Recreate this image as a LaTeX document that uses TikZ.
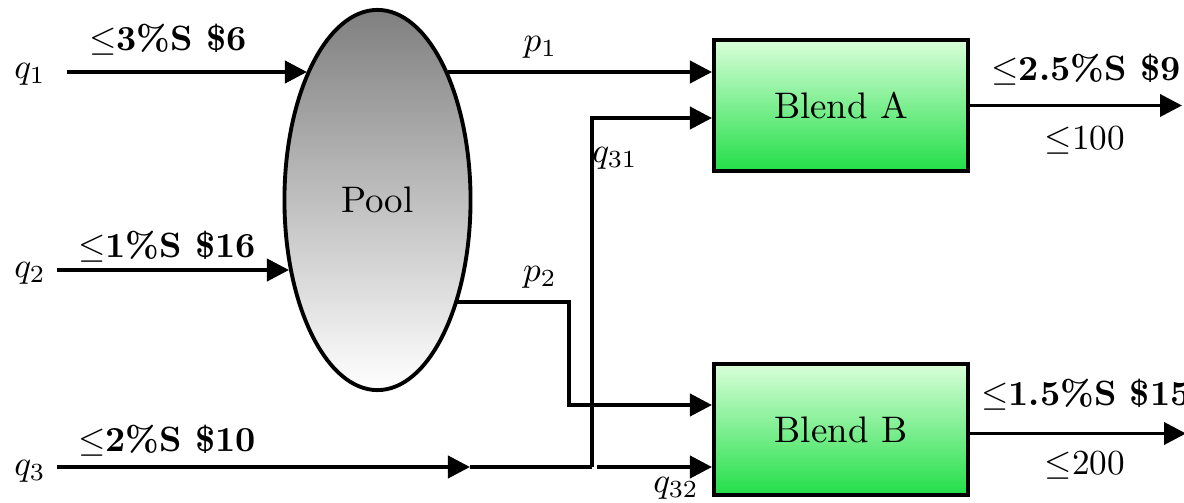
\documentclass[tikz,border=0pt]{standalone}
\usepackage{amsmath,amssymb}
\usepackage{tikz}
\usetikzlibrary{calc,positioning,arrows.meta,shapes.geometric}
\definecolor{blendgreen}{RGB}{34,222,72}

\begin{document}
\begin{tikzpicture}[
    x=0.01cm, y=-0.01cm,
    font=\normalsize,
    pool/.style={ellipse, draw=black, line width=1.1pt, top color=gray, bottom color=white, minimum width=1.86cm, minimum height=3.8cm, inner sep=0pt},
    blend/.style={rectangle, draw=black, line width=1.1pt, top color=green!15, bottom color=blendgreen, minimum width=2.54cm, minimum height=1.31cm},
    spec/.style={font=\bfseries},
    pipe/.style={line width=1.1pt},
    flow/.style={pipe, -{Triangle[length=2.2mm,width=2.2mm]}}
]
    \useasboundingbox (0,0) rectangle (1184,503);

    % --- UNITS ---
    \node[pool] (Pool) at (377.5,200) {\fontsize{10.5}{12}\selectfont Pool};
    \node[blend] (BlendA) at (841,105.5) {\fontsize{10.5}{12}\selectfont Blend A};
    \node[blend] (BlendB) at (841,429.5) {\fontsize{10.5}{12}\selectfont Blend B};

    % --- FEEDS ---
    \coordinate (Feed1) at (67,72);
    \coordinate (Feed2) at (57,270);
    \coordinate (Feed3) at (57,467);
    \coordinate (PoolIn1) at (307,72);
    \coordinate (PoolIn2) at (289,270);
    \coordinate (PoolOut1) at (448,72);
    \coordinate (PoolOut2) at (457,302);
    \coordinate (Mid3) at (470,467);
    \coordinate (Split) at (592,467);

    \node (Q1) at (30,74) {$q_1$};
    \node (Q2) at (30,273) {$q_2$};
    \node (Q3) at (30,471) {$q_3$};
    \node[spec] (Spec1) at (168,40) {$\leq$3\%S \$6};
    \node[spec] (Spec2) at (167,247) {$\leq$1\%S \$16};
    \node[spec] (Spec3) at (167,441) {$\leq$2\%S \$10};

    % ================= STREAMS =================
    \draw[flow] (Feed1) -- (PoolIn1);
    \draw[flow] (Feed2) -- (PoolIn2);
    \draw[flow] (Feed3) -- (Mid3);
    \draw[pipe] (Mid3) -- (Split);

    \draw[flow] (PoolOut1) -- node[above, pos=0.35] {$p_1$} (PoolOut1 -| BlendA.west);
    \draw[flow] (PoolOut2) -- node[above, pos=0.74] {$p_2$} ++(112,0) |- ($(BlendB.west)+(0,-24.5)$);
    \draw[flow] (Split) |- ($(BlendA.west)+(0,12.5)$);
    \node (Q31) at (615,158) {$q_{31}$};
    \draw[flow] ($(Split)+(5,0)$) -- (Split -| BlendB.west);
    \node (Q32) at (676,488) {$q_{32}$};

    % Products
    \draw[flow] (BlendA.east) -- ++(212,0);
    \node[spec] (SpecA) at (1086,70) {$\leq$2.5\%S \$9};
    \node (CapA) at (1085,140) {$\leq$100};
    \draw[flow] ($(BlendB.east)+(0,4)$) -- ++(216,0);
    \node[spec] (SpecB) at (1086,395) {$\leq$1.5\%S \$15};
    \node (CapB) at (1085,465) {$\leq$200};

\end{tikzpicture}
\end{document}
